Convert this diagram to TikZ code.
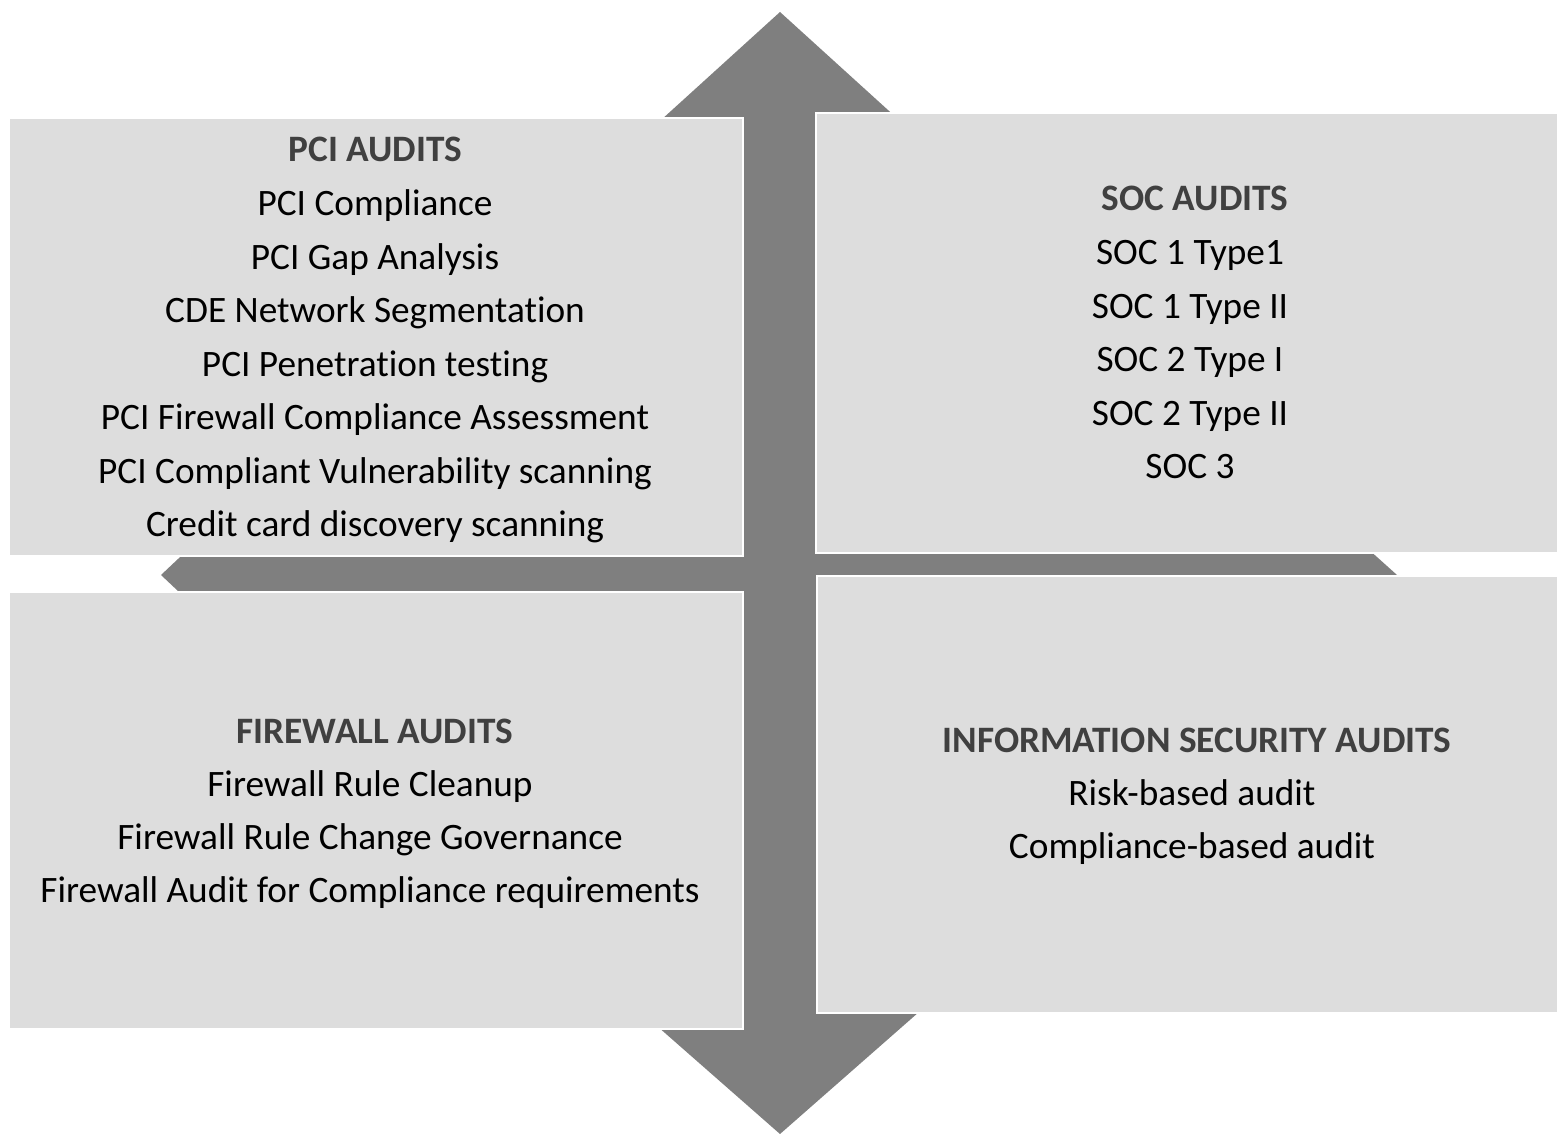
\documentclass[tikz,border=0pt]{standalone}
\usepackage{fontspec}
\setmainfont{Carlito}[Ligatures=NoCommon]
\definecolor{arrowgray}{HTML}{7F7F7F}
\definecolor{boxgray}{HTML}{DDDDDD}
\definecolor{headgray}{HTML}{404040}
\begin{document}
\begin{tikzpicture}[x=1pt,y=-1pt,
  quadbox/.style={rectangle, fill=boxgray, draw=white, line width=2.5pt, anchor=north west, inner sep=0pt, outer sep=0pt},
  headtext/.style={anchor=base, inner sep=0pt, font=\fontsize{37.3}{44}\selectfont\bfseries, text=headgray},
  itemtext/.style={anchor=base, inner sep=0pt, font=\fontsize{37.3}{44}\selectfont, text=black}]
\useasboundingbox (0,0) rectangle (1557,1134);
% quad arrow
\fill[arrowgray] (780,12) -- (932,150) -- (835,150) -- (835,545) -- (1250,545) -- (1250,443) -- (1397,575) -- (1250,707) -- (1250,605) -- (835,605) -- (835,990) -- (944,990) -- (780,1134) -- (616,990) -- (725,990) -- (725,605) -- (300,605) -- (300,706) -- (161,575) -- (300,444) -- (300,545) -- (725,545) -- (725,150) -- (628,150) -- cycle;
% boxes
\node[quadbox, minimum width=734pt, minimum height=438pt] (pci) at (9,118) {};
\node[quadbox, minimum width=744pt, minimum height=440pt] (soc) at (816,113) {};
\node[quadbox, minimum width=734pt, minimum height=437pt] (fw) at (9,592) {};
\node[quadbox, minimum width=744pt, minimum height=437pt] (info) at (817,576) {};
% PCI
\node[headtext] (pcih) at (375.5,162) {PCI AUDITS};
\foreach \t [count=\i] in {PCI Compliance, PCI Gap Analysis, CDE Network Segmentation, PCI Penetration testing, PCI Firewall Compliance Assessment, PCI Compliant Vulnerability scanning, Credit card discovery scanning}
  \node[itemtext] (pci\i) at (375,162+53.5*\i) {\t};
% SOC
\node[headtext] (soch) at (1195,211) {SOC AUDITS};
\foreach \t [count=\i] in {SOC 1 Type1, SOC 1 Type II, SOC 2 Type I, SOC 2 Type II, SOC 3}
  \node[itemtext] (soc\i) at (1190,211+53.5*\i) {\t};
% Firewall
\node[headtext] (fwh) at (375,743) {FIREWALL AUDITS};
\foreach \t [count=\i] in {Firewall Rule Cleanup, Firewall Rule Change Governance, Firewall Audit for Compliance requirements}
  \node[itemtext] (fw\i) at (370,743+53.3*\i) {\t};
% Information security
\node[headtext] (infoh) at (1197,752) {INFORMATION SECURITY AUDITS};
\foreach \t [count=\i] in {Risk-based audit, Compliance-based audit}
  \node[itemtext] (info\i) at (1192,752+53.2*\i) {\t};
\end{tikzpicture}
\end{document}
